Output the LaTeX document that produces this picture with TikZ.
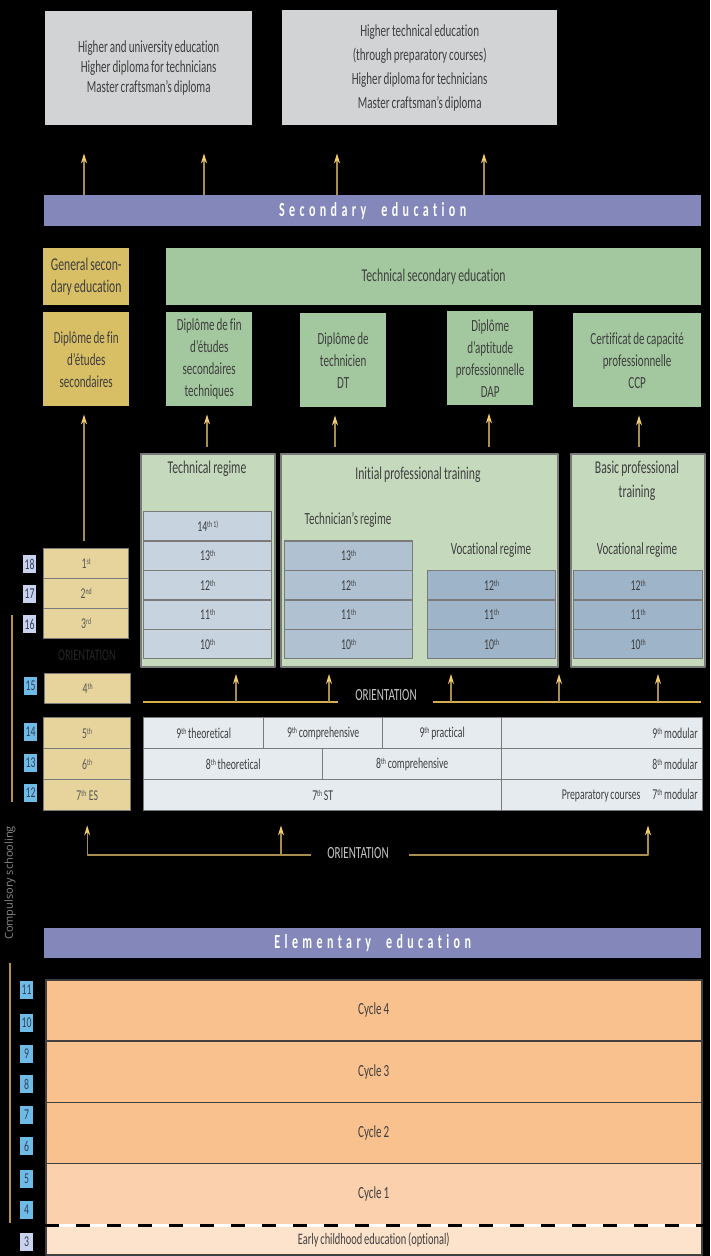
\documentclass[tikz,border=0pt]{standalone}
\usepackage{fontspec}
\setmainfont{Carlito}[FakeStretch=0.65,Ligatures=NoCommon,WordSpace=0.8]
\newfontfamily\barfont{Carlito}[FakeStretch=0.6,LetterSpace=22,Ligatures=NoCommon]
\newfontfamily\sidefont{Open Sans}
\usetikzlibrary{arrows.meta}
\newcommand{\grsup}[1]{\raisebox{0.55ex}{\fontsize{9}{9}\selectfont #1}}
\definecolor{topgray}{HTML}{D1D3D4}
\definecolor{barblue}{HTML}{8387BA}
\definecolor{gengold}{HTML}{D8BE64}
\definecolor{gradegold}{HTML}{E6D49C}
\definecolor{techgreen}{HTML}{A3C79E}
\definecolor{regimegreen}{HTML}{C5D9BD}
\definecolor{techcell}{HTML}{C7D4E0}
\definecolor{tnccell}{HTML}{B0C1D1}
\definecolor{voccell}{HTML}{9EB4C9}
\definecolor{lowcell}{HTML}{E6EBF0}
\definecolor{cycorange}{HTML}{F9C18E}
\definecolor{cycone}{HTML}{FBD0AC}
\definecolor{earlyc}{HTML}{FDE2CC}
\definecolor{tabblue}{HTML}{6DBBE6}
\definecolor{tablav}{HTML}{C9D3EE}
\definecolor{arrline}{HTML}{A88D4E}
\definecolor{arrhead}{HTML}{F5CB6C}
\definecolor{orline}{HTML}{D5AE48}
\definecolor{txtgray}{HTML}{3F3F3F}
\definecolor{cellline}{HTML}{7A7A7A}
\definecolor{tabtxt}{HTML}{34405A}
\definecolor{sidegray}{HTML}{8A8A8A}
\tikzset{
	sz/.style 2 args={minimum width=#1pt,minimum height=#2pt},
	box/.style={inner sep=0pt,anchor=north west,align=center,text=txtgray,font=\fontsize{17}{22}\selectfont},
	cell/.style={box,draw=cellline,line width=1.4pt,font=\fontsize{15}{17}\selectfont},
	gcell/.style={cell,fill=gradegold,text=black!65},
	reg/.style={box,fill=regimegreen,draw=cellline,line width=2pt},
	cyc/.style={box,draw=black!75,line width=1.5pt},
	bar/.style={box,fill=barblue,text=white,font=\barfont\bfseries\fontsize{20}{20}\selectfont},
	ttl/.style={text=txtgray,inner sep=0pt,align=center,font=\fontsize{18}{24}\selectfont},
	sub/.style={text=txtgray,inner sep=0pt,font=\fontsize{17}{20}\selectfont},
	ortxt/.style={inner sep=0pt,font=\fontsize{17}{17}\selectfont},
	tabbox/.style={inner sep=0pt,minimum width=13pt,minimum height=18pt,text=tabtxt,font=\fontsize{15}{15}\selectfont},
	up/.style={draw=arrline,line width=1.4pt,-{Stealth[length=10pt,width=6pt,color=arrhead]}},
	orl/.style={draw=orline,line width=1.6pt},
	brk/.style={draw=orline!85!black,line width=1.4pt}
}
\begin{document}
\begin{tikzpicture}[x=1pt,y=-1pt,line join=round]
	% nen
	\fill[black] (0,0) rectangle (710,1256);
	\useasboundingbox (0,0) rectangle (710,1256);
	% higher education
	\node[box,fill=topgray,sz={207}{114},font=\fontsize{17}{20}\selectfont] (hiA) at (45,11) {Higher and university education\\Higher diploma for technicians\\Master craftsman’s diploma};
	\node[box,fill=topgray,sz={275}{115},font=\fontsize{17}{24}\selectfont] (hiB) at (282,10) {Higher technical education\\(through preparatory courses)\\Higher diploma for technicians\\Master craftsman’s diploma};
	% secondary education
	\node[bar,sz={657}{31}] (secbar) at (44,195) {Secondary\hspace{8pt} education};
	\foreach \x [count=\i] in {84,204,337,484}{
		\path (\x,200) coordinate (hx\i);
		\draw[up,shorten >=28pt] (hx\i |- secbar.north) -- (hx\i |- hiA.south);
	}
	\node[box,fill=gengold,sz={86}{57},font=\fontsize{18}{22}\selectfont] (genhd) at (43,248) {General secon-\\dary education};
	\node[box,fill=techgreen,sz={535}{57},font=\fontsize{18}{22}\selectfont] (techhd) at (166,248) {Technical secondary education};
	% diplomas
	\node[box,fill=gengold,sz={86}{94}] (dipGen) at (43,312) {Diplôme de fin\\d’études\\secondaires};
	\node[box,fill=techgreen,sz={86}{94}] (dipTech) at (166,312) {Diplôme de fin\\d’études\\secondaires\\techniques};
	\node[box,fill=techgreen,sz={86}{94}] (dipDT) at (300,313) {Diplôme de\\technicien\\DT};
	\node[box,fill=techgreen,sz={86}{94}] (dipDAP) at (447,311) {Diplôme\\d’aptitude\\professionnelle\\DAP};
	\node[box,fill=techgreen,sz={128}{94}] (dipCCP) at (573,313) {Certificat de capacité\\professionnelle\\CCP};
	% regimes
	\node[reg,sz={134}{213}] (techreg) at (140,453) {};
	\node[reg,sz={277}{213}] (initreg) at (280,453) {};
	\node[reg,sz={134}{213}] (basicreg) at (570,453) {};
	\node[ttl] (techregT) at (207,469) {Technical regime};
	\node[ttl] (initregT) at (418,475) {Initial professional training};
	\node[ttl] (basicregT) at (637,481) {Basic professional\\training};
	\node[sub] (tncT) at (348,520) {Technician’s regime};
	\node[sub] (vocT) at (491,550) {Vocational regime};
	\node[sub] (bvocT) at (637,550) {Vocational regime};
	\foreach \g/\s [count=\i from 0] in {14/th 1),13/th,12/th,11/th,10/th}
		\node[cell,fill=techcell,sz={128}{29.4}] (tc\g) at (143,{511+29.4*\i}) {\g\grsup{\s}};
	\foreach \g [count=\i from 1] in {13,12,11,10}
		\node[cell,fill=tnccell,sz={128}{29.4}] (tn\g) at (284,{511+29.4*\i}) {\g\grsup{th}};
	\foreach \g [count=\i from 2] in {12,11,10}{
		\node[cell,fill=voccell,sz={128}{29.4}] (vc\g) at (427,{511+29.4*\i}) {\g\grsup{th}};
		\node[cell,fill=voccell,sz={129}{29.4}] (bv\g) at (573,{511+29.4*\i}) {\g\grsup{th}};
	}
	% arrows to diplomas
	\path (84,500) coordinate (gx);
	\foreach \n/\x in {dipTech/207,dipDT/335,dipDAP/489,dipCCP/639}{
		\path (\x,447) coordinate (ft-\n);
		\draw[up,shorten >=8pt] (ft-\n) -- (ft-\n |- \n.south);
	}
	% left column
	\foreach \g/\s [count=\i from 0] in {1/st,2/nd,3/rd}
		\node[gcell,sz={85}{30}] (g\g) at (43,{548+30*\i}) {\g\grsup{\s}};
	\draw[up,shorten <=7pt,shorten >=8pt] (gx |- g1.north) -- (gx |- dipGen.south);
	\node[ortxt,text=black!85,font=\fontsize{16}{16}\selectfont] (orL) at (87,655) {ORIENTATION};
	\node[gcell,sz={86}{30}] (g4) at (44,673) {4\grsup{th}};
	\foreach \g/\t [count=\i from 0] in {5/{5\grsup{th}},6/{6\grsup{th}},7/{7\grsup{th}\,ES}}
		\node[gcell,sz={87}{31}] (g\g) at (43,{717+31*\i}) {\t};
	% middle orientation
	\path (143,702) coordinate (om1) (338,702) coordinate (om2) (433,702) coordinate (om3) (701,702) coordinate (om4);
	\node[ortxt,text=black!22] (orM) at (386,695) {ORIENTATION};
	\draw[orl] (om1) -- (om2) (om3) -- (om4);
	\foreach \x [count=\i] in {236,329,451,559,658}{
		\path (\x,702) coordinate (of\i);
		\draw[up,shorten >=6pt] (of\i) -- (of\i |- techreg.south);
	}
	% lower grades
	\foreach \n/\x/\y/\w/\t in {l9a/143/717/120/{9\grsup{th} theoretical},l9b/263/717/119/{9\grsup{th} comprehensive},l9c/382/717/119/{9\grsup{th} practical},l8a/143/748/179/{8\grsup{th} theoretical},l8b/322/748/179/{8\grsup{th} comprehensive},l7a/143/779/358/{7\grsup{th} ST}}
		\node[cell,fill=lowcell,sz={\w}{31}] (\n) at (\x,\y) {\t};
	\foreach \n/\y/\t in {l9d/717/{9\grsup{th} modular},l8d/748/{8\grsup{th} modular},l7d/779/{Preparatory courses\hspace{12pt}7\grsup{th} modular}}
		\node[cell,fill=lowcell,minimum height=31pt,text width=191pt,inner xsep=5pt,align=flush right] (\n) at (501,\y) {\t};
	% bottom orientation
	\path (311,855) coordinate (ob1) (281,855) coordinate (ob3) (409,855) coordinate (ob2) (648,855) coordinate (obR);
	\node[ortxt,text=black!22] (orB) at (358,853) {ORIENTATION};
	\draw[up,shorten >=14pt] (ob1) -| (g7.south);
	\draw[up,shorten >=14pt] (ob3) -- (ob3 |- l7a.south);
	\draw[up,shorten >=14pt] (ob2) -| (obR |- l7d.south);
	% age tabs
	\foreach \a/\x/\y/\c in {18/29.5/564/tablav,17/29.5/594/tablav,16/29.5/624/tablav,15/30.5/685.5/tabblue,14/30.5/731.5/tabblue,13/30.5/762.5/tabblue,12/30.5/793/tabblue,11/26.5/990/tabblue,10/26.5/1022.5/tabblue,9/26.5/1054/tabblue,8/26.5/1084/tabblue,7/26.5/1115/tabblue,6/26.5/1146/tabblue,5/26.5/1179/tabblue,4/26.5/1210/tabblue,3/26.5/1242/tablav}
		\node[tabbox,fill=\c] (t\a) at (\x,\y) {\a};
	% compulsory schooling
	\draw[brk] (12,615) -- (12,802);
	\draw[brk] (10,963) -- (10,1223);
	\node[rotate=90,inner sep=0pt,text=sidegray,font=\sidefont\fontsize{11}{11}\selectfont] (cs) at (10,883) {Compulsory schooling};
	% elementary education
	\node[bar,sz={657}{30}] (elembar) at (44,928) {Elementary\hspace{8pt} education};
	\foreach \t/\c in {4/cycorange,3/cycorange,2/cycorange,1/cycone}
		\node[cyc,fill=\c,sz={656}{61.25}] (cy\t) at (45,{979+(4-\t)*61.25}) {Cycle \t};
	\node[cyc,fill=earlyc,sz={656}{30},font=\fontsize{16}{16}\selectfont] (early) at (45,1224) {Early childhood education (optional)};
	\draw[white,line width=3pt] (cy1.south west) -- (cy1.south east);
	\draw[black,line width=3pt,dash pattern=on 14pt off 17pt] (cy1.south west) -- (cy1.south east);
\end{tikzpicture}
\end{document}
